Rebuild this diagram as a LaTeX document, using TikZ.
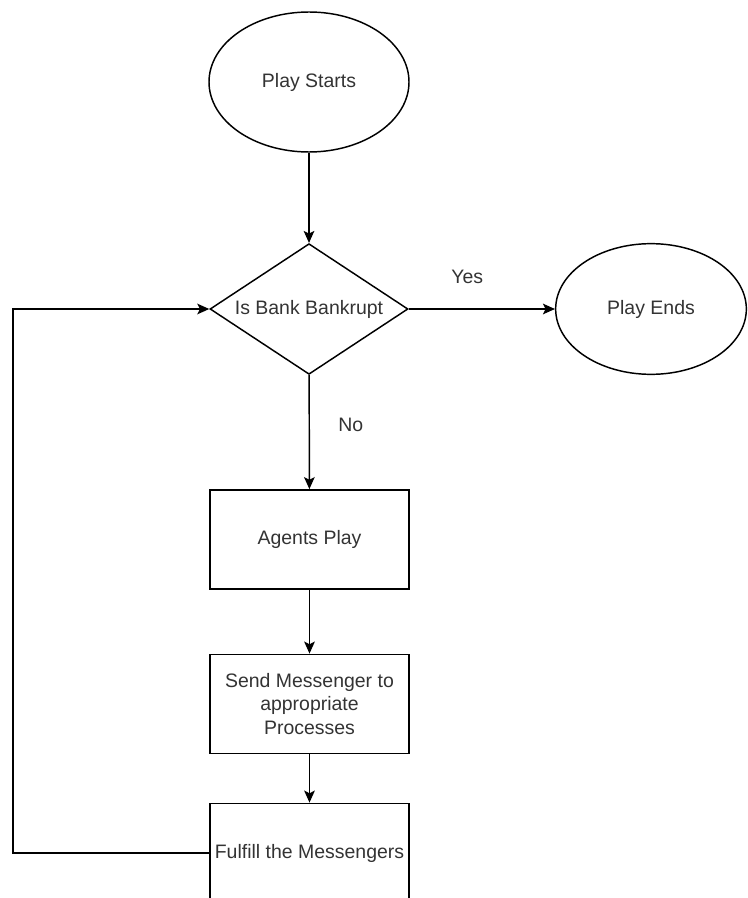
\documentclass[tikz,border=0pt]{standalone}
\usepackage{fontspec}
\setmainfont{Liberation Sans}
\usetikzlibrary{shapes.geometric}
\usetikzlibrary{arrows.meta}

\begin{document}
\begin{tikzpicture}[x=0.75pt, y=-0.75pt,
    every node/.style={font=\fontsize{14.6}{17.5}\selectfont, text=black!80},
    terminal/.style={draw=black, ellipse, line width=1.1pt, inner sep=0pt},
    decision/.style={draw=black, diamond, aspect=1.5, line width=1.1pt, inner sep=0pt,
        minimum width=148.5pt, minimum height=98pt},
    process/.style={draw=black, rectangle, line width=1.1pt, inner sep=2pt,
        minimum width=149pt, minimum height=74.5pt, align=center},
    flow/.style={draw=black, line width=1.1pt, -{Stealth[length=9pt, width=8pt, inset=2pt]}}
]

    % Page frame
    \useasboundingbox (0,0) rectangle (747,898);

    % Start and end
    \node[terminal, minimum width=150pt, minimum height=105pt] (start) at (309,82) {Play Starts};
    \node[terminal, minimum width=143pt, minimum height=98pt] (finish) at (651,309) {Play Ends};

    % Decision
    \node[decision] (bank) at (309,309) {Is Bank Bankrupt};

    % Process steps
    \node[process] (agents) at (309.5,539.5) {Agents Play};
    \node[process] (send) at (309.5,704) {Send Messenger to\\appropriate\\Processes};
    \node[process] (fulfill) at (309.5,853) {Fulfill the Messengers};

    % Main flow
    \draw[flow] (start) -- (bank);
    \draw[flow] (bank) -- (finish) node[pos=0.4, above=15pt] {Yes};
    \draw[flow] (bank) -- (agents) node[pos=0.44, right=18pt] {No};
    \draw[flow] (agents) -- (send);
    \draw[flow] (send) -- (fulfill);

    % Loop back to the decision
    \coordinate (loopcorner) at (13,853);
    \draw[flow] (fulfill.west) -- (loopcorner) |- (bank.west);

\end{tikzpicture}
\end{document}
